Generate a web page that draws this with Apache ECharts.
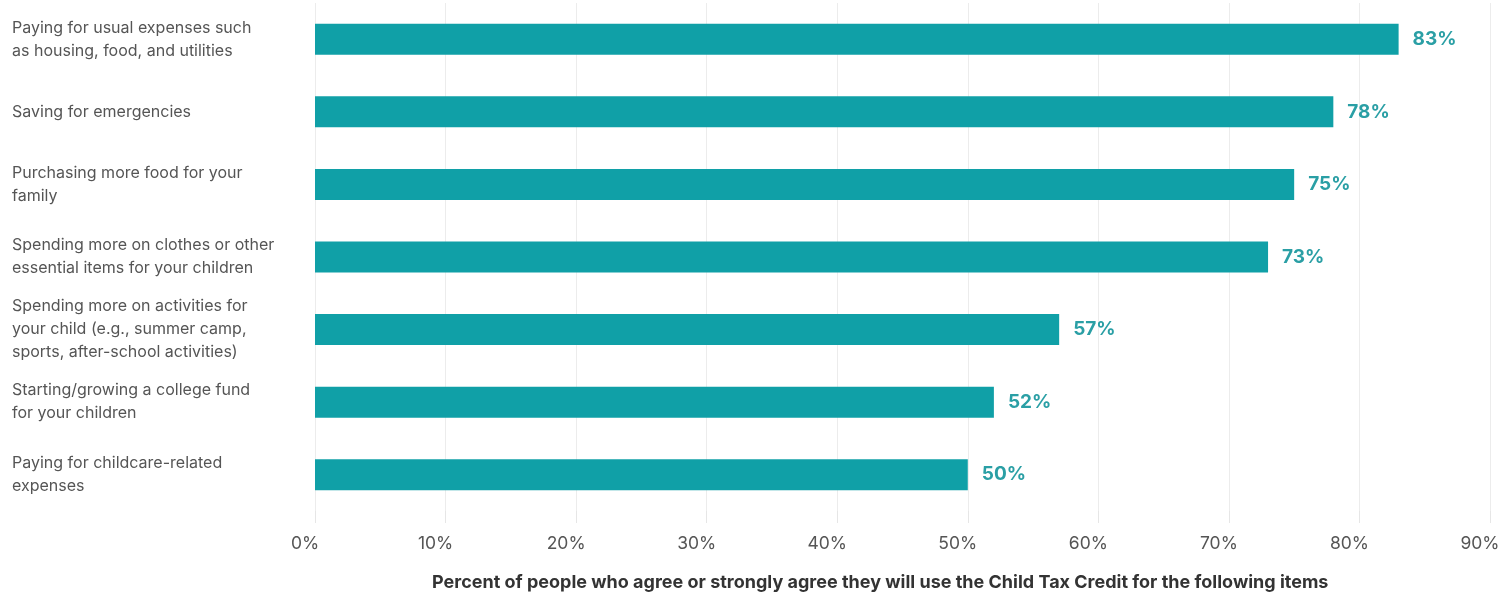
<!DOCTYPE html>
<html>
<head>
<meta charset="utf-8">
<script src="https://cdn.jsdelivr.net/npm/echarts@6/dist/echarts.min.js"></script>
<style>
  html, body { margin: 0; padding: 0; background: #fff; }
  #chart { width: 1504px; height: 594px; }
</style>
</head>
<body>
<div id="chart"></div>
<script>
var categories = [
    'Paying for usual expenses such\nas housing, food, and utilities',
    'Saving for emergencies',
    'Purchasing more food for your\nfamily',
    'Spending more on clothes or other\nessential items for your children',
    'Spending more on activities for\nyour child (e.g., summer camp,\nsports, after-school activities)',
    'Starting/growing a college fund\nfor your children',
    'Paying for childcare-related\nexpenses'
];
var values = [83, 78, 75, 73, 57, 52, 50];
var axisTitle = 'Percent of people who agree or strongly agree they will use the Child Tax Credit for the following items';

var chart = echarts.init(document.getElementById('chart'), null, {renderer: 'canvas'});

chart.setOption({
    animation: false,
    title: {
        text: axisTitle,
        left: 427,
        top: 569,
        textStyle: {fontFamily: 'Inter', fontSize: 18, fontWeight: 'bold', color: '#333'}
    },
    grid: {left: 315, right: 14, top: 3, bottom: 83, containLabel: false, outerBoundsMode: 'none'},
    xAxis: {
        type: 'value',
        min: 0,
        max: 90,
        interval: 10,
        axisLine: {show: false},
        axisTick: {show: true, length: 12, lineStyle: {color: '#e6e6e6'}},
        splitLine: {show: true, lineStyle: {color: '#ececec', width: 1}},
        axisLabel: {
            formatter: '{value}%',
            margin: 24,
            padding: [0, 20, 0, 0],
            fontFamily: 'Inter',
            fontSize: 17.5,
            color: '#555'
        }
    },
    yAxis: {
        type: 'category',
        data: categories,
        inverse: true,
        axisLine: {show: false},
        axisTick: {show: false},
        axisLabel: {
            align: 'left',
            margin: 303,
            fontFamily: 'Inter',
            fontSize: 16,
            lineHeight: 23,
            color: '#555'
        }
    },
    series: [{
        type: 'bar',
        data: values,
        barWidth: 31,
        itemStyle: {color: '#10a0a7'},
        label: {
            show: true,
            position: 'right',
            distance: 14,
            formatter: '{c}%',
            fontFamily: 'Inter',
            fontSize: 19,
            fontWeight: 'bold',
            color: '#2a9fa5'
        }
    }]
});
</script>
</body>
</html>
